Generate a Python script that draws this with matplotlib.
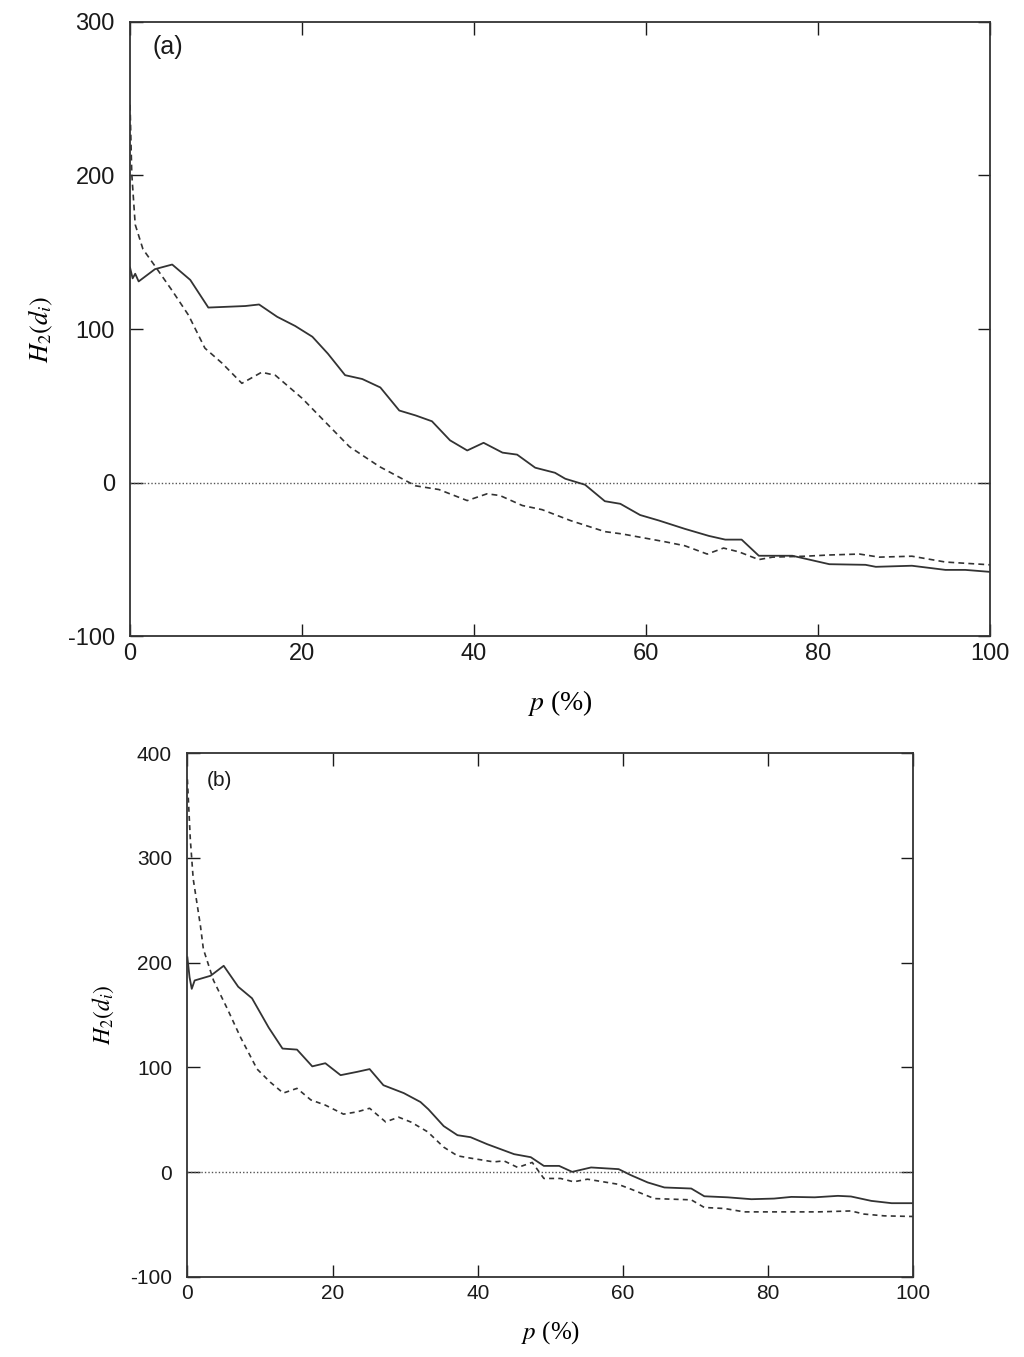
import matplotlib
matplotlib.use("Agg")
import matplotlib.pyplot as plt

# Panel (a)
pa_solid = [0, 0.3, 0.6, 1.0, 2.9, 4.9, 7.0, 9.1, 13.4, 15.0, 17.1, 19.2, 21.2, 23.0, 25.0, 27.0, 29.1,
            31.3, 33.2, 35.1, 37.2, 39.2, 41.1, 43.3, 45.0, 47.1, 49.4, 50.6, 52.9, 55.2, 57.0, 59.3,
            61.5, 64.5, 67.3, 69.2, 71.1, 73.1, 77.0, 81.3, 85.5, 86.7, 90.9, 94.8, 97.1, 100]
ha_solid = [140, 133, 136, 131, 139, 142, 132, 114, 115, 116, 108, 102, 95, 84, 70, 67.5, 62,
            47, 43.8, 40, 27.6, 21, 26, 19.6, 18.3, 9.8, 6.5, 2.6, -1.3, -12, -13.7, -21,
            -24.6, -30, -34.6, -37, -37, -47.5, -47.5, -53, -53.4, -54.7, -54, -56.7, -56.7, -58]

pa_dash = [0, 0.2, 0.6, 1.5, 2.9, 4.9, 6.8, 8.7, 10.7, 13.0, 15.3, 16.9, 20.0, 22.3, 25.5, 29.0,
           32.0, 33.2, 35.9, 39.2, 41.5, 43.0, 45.6, 47.9, 51.2, 55.2, 57.2, 62.2, 64.5, 67.1,
           69.0, 70.8, 73.1, 74.7, 78.5, 81.3, 84.8, 87.1, 90.9, 94.8, 100]
ha_dash = [246, 201, 168, 152, 141, 125, 109, 87.6, 77.8, 64.7, 71.9, 69.9, 55, 41.8, 23.5, 10.5,
           1.5, -2, -4.4, -11.6, -7.2, -8.3, -14.8, -17.5, -24.6, -31.8, -33.3, -38.4, -41, -46.4,
           -42.5, -45, -50, -48.4, -47.8, -47, -46.4, -48.4, -47.8, -51.6, -53.4]

# Panel (b)
pb_solid = [0, 0.3, 0.6, 1.0, 3.2, 5.0, 7.0, 8.9, 11.2, 13.1, 15.1, 17.2, 19.0, 21.1, 23.4, 25.1,
            27.0, 29.8, 32.1, 33.2, 35.3, 37.2, 39.0, 41.3, 45.0, 47.3, 49.1, 51.2, 53.0, 55.6,
            59.4, 61.1, 63.4, 65.7, 69.4, 71.2, 74.4, 77.7, 80.8, 83.2, 86.4, 89.6, 91.4, 94.2, 97.0, 100]
hb_solid = [205, 186, 175, 183, 187.5, 197, 177, 166, 138, 118, 117, 101, 104, 92.6, 95.8, 98.4,
            83, 75.5, 67, 60, 44, 35.3, 33.4, 26.7, 17.2, 14.3, 6, 6, 0.3, 4.5,
            2.9, -2.9, -9.8, -14.6, -15.6, -23, -24, -25.8, -25.2, -23.6, -24, -22.6, -23.2, -27.4, -29.6, -29.6]

pb_dash = [0, 0.4, 0.8, 1.8, 2.2, 3.6, 5.5, 7.3, 9.6, 11.4, 13.2, 15.1, 17.0, 19.0, 21.5, 23.4,
           25.1, 27.3, 29.1, 30.8, 33.1, 35.3, 37.2, 39.0, 42.2, 43.6, 45.5, 47.5, 49.1, 51.4,
           53.2, 55.1, 59.3, 61.1, 64.3, 69.4, 71.2, 74.0, 76.7, 82.2, 86.9, 91.4, 93.2, 96.0, 100]
hb_dash = [375, 318, 280, 235, 213, 183, 156, 129, 98.4, 86, 75.5, 80, 69, 64, 55.4, 57.6,
           61, 48, 52.5, 47.8, 38.5, 23.9, 15.6, 13.4, 9.8, 10.8, 4.5, 9.3, -6, -6,
           -9.2, -6.7, -11.5, -16.2, -25.2, -26.4, -33.7, -34.7, -37.9, -37.9, -37.9, -37, -40, -41.7, -42.3]

xticks = [0, 20, 40, 60, 80, 100]
yticks_a = [-100, 0, 100, 200, 300]
yticks_b = [-100, 0, 100, 200, 300, 400]

plt.rcParams['mathtext.fontset'] = 'stix'
plt.rcParams['axes.unicode_minus'] = False

fig = plt.figure(figsize=(10.24, 13.57), dpi=100)
ax1 = fig.add_axes([0.127, 0.531, 0.840, 0.453])
ax2 = fig.add_axes([0.183, 0.059, 0.709, 0.386])

def style(ax, yticks, ylim, fs, lfs, label, lab_pos, lab_fs, ypad, ylpad, xlpad):
    ax.set_xlim(0, 100)
    ax.set_ylim(*ylim)
    ax.set_xticks(xticks)
    ax.set_yticks(yticks)
    ax.tick_params(direction='in', length=9, width=1.0, top=True, right=True,
                   labelsize=fs, colors='#1a1a1a')
    ax.tick_params(axis='y', pad=ypad)
    ax.tick_params(axis='x', pad=5)
    for lab in ax.get_xticklabels() + ax.get_yticklabels():
        lab.set_family('Liberation Sans')
    for s in ax.spines.values():
        s.set_linewidth(1.3)
        s.set_color('#333333')
    ax.axhline(0, color='#555555', lw=1.0, ls=(0, (1, 1.5)))
    ax.set_xlabel(r'$p$ (%)', fontsize=lfs, family='Liberation Serif', labelpad=xlpad)
    ax.set_ylabel(r'$H_2(d_i)$', fontsize=lfs - 1, labelpad=ylpad)
    ax.text(lab_pos[0], lab_pos[1], label, transform=ax.transAxes, fontsize=lab_fs,
            family='Liberation Sans', va='center', ha='left', color='#1a1a1a')

style(ax1, yticks_a, (-100, 300), 17, 20, '(a)', (0.026, 0.959), 18, 11, 9, 16)
ax1.plot(pa_solid, ha_solid, color='#333333', lw=1.3)
ax1.plot(pa_dash, ha_dash, color='#333333', lw=1.2, ls=(0, (3.5, 2.5)))

style(ax2, yticks_b, (-100, 400), 15, 18, '(b)', (0.026, 0.948), 15, 11, 10, 12)
ax2.plot(pb_solid, hb_solid, color='#333333', lw=1.3)
ax2.plot(pb_dash, hb_dash, color='#333333', lw=1.2, ls=(0, (3, 2.5)))

fig.savefig('out.png', dpi=100, facecolor='white')
